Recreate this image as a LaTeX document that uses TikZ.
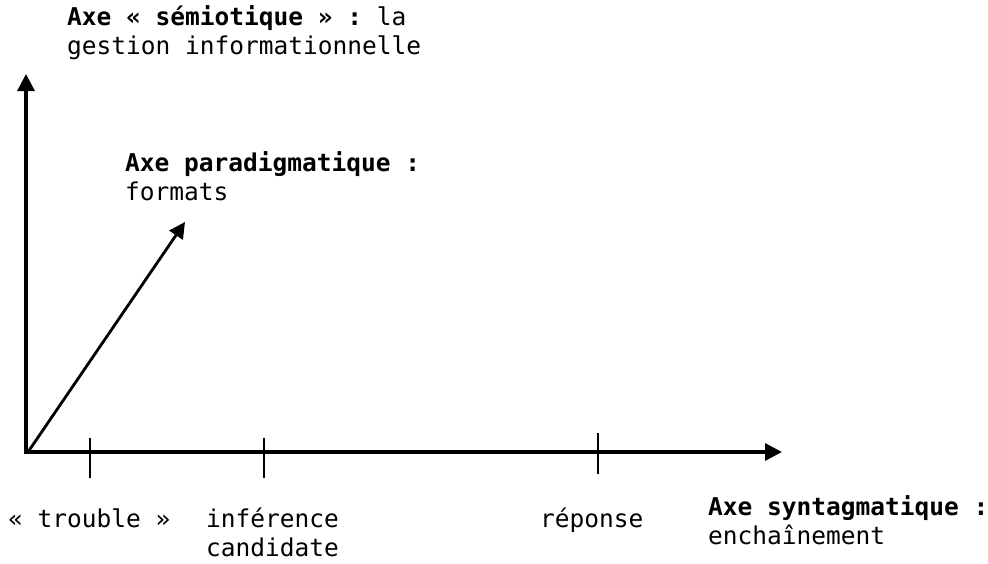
\documentclass[tikz,border=0pt]{standalone}
\usepackage{fontspec}
\setmonofont{DejaVu Sans Mono}
\usetikzlibrary{arrows.meta}
\begin{document}
\begin{tikzpicture}[x=1pt,y=-1pt,
  lbl/.style={anchor=base west,inner sep=0pt,align=left,
    font=\ttfamily\fontsize{24.5}{29}\selectfont},
  axis/.style={line width=3.2pt,-{Triangle[length=17pt,width=17pt]}},
  tickln/.style={line width=1.8pt}]
\useasboundingbox (0,0) rectangle (988,563);
\coordinate (O) at (26,452);
\coordinate (Ytip) at (26,74);
\coordinate (Xtip) at (782,452);
\coordinate (Dtip) at (185,222);
\coordinate (t1a) at (90,438); \coordinate (t1b) at (90,478);
\coordinate (t2a) at (264,438); \coordinate (t2b) at (264,478);
\coordinate (t3a) at (598,433); \coordinate (t3b) at (598,474);
\draw[axis] ([yshift=-1.6pt]O) -- (Ytip);
\draw[axis] ([xshift=-1.6pt]O) -- (Xtip);
\draw[line width=2.8pt,-{Triangle[length=16pt,width=16pt]}] (28,452) -- (Dtip);
\draw[tickln] (t1a) -- (t1b);
\draw[tickln] (t2a) -- (t2b);
\draw[tickln] (t3a) -- (t3b);
\node[lbl] (sem) at (67,54) {\textbf{Axe « sémiotique » :} la\\gestion informationnelle};
\node[lbl] (par) at (125,200) {\textbf{Axe paradigmatique :}\\formats};
\node[lbl] (trb) at (8,527) {« trouble »};
\node[lbl] (inf) at (206,556) {inférence\\candidate};
\node[lbl] (rep) at (540,527) {réponse};
\node[lbl] (syn) at (708,544) {\textbf{Axe syntagmatique :}\\enchaînement};
\end{tikzpicture}
\end{document}
